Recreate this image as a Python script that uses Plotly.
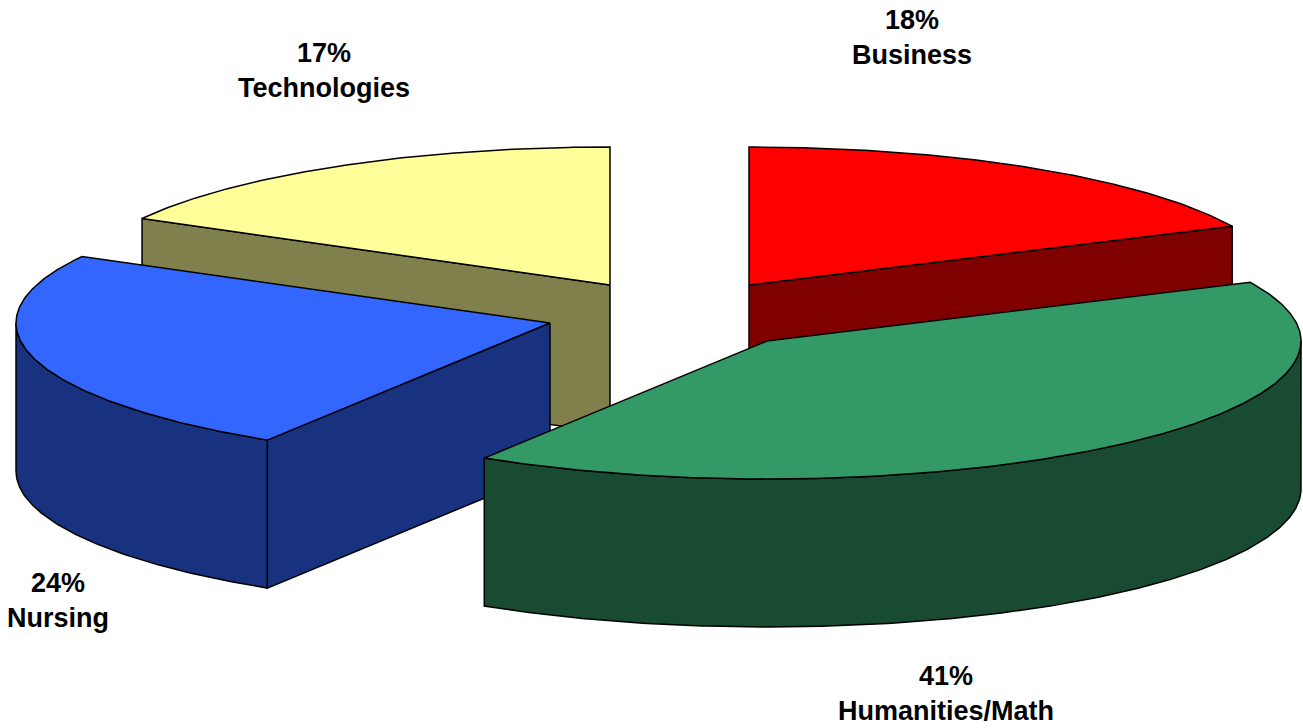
import numpy as np
import plotly.graph_objects as go

# ---- data (clockwise from 12 o'clock) ----
categories = ["Business", "Humanities/Math", "Nursing", "Technologies"]
shares = [18.0, 40.88, 24.12, 17.0]

# ---- styles / layout of the extruded exploded pie ----
top_colors = ["#FF0000", "#339966", "#3366FF", "#FFFF99"]
side_colors = ["#800000", "#194B32", "#183280", "#80804D"]
apexes = [(749, 285), (767, 341), (550, 323), (610, 285)]
label_xy = [(912, 37), (946, 693), (58, 600), (324, 70)]
draw_order = [3, 0, 2, 1]
RX, RY, DEPTH = 534, 138, 148

fig = go.Figure()


def add_poly(xs, ys, color):
    fig.add_trace(go.Scatter(
        x=np.r_[xs, xs[0]], y=np.r_[ys, ys[0]], mode="lines", fill="toself",
        fillcolor=color, line=dict(color="black", width=1.5),
        hoverinfo="skip", showlegend=False))


def rim(cx, cy, t0, t1, dy=0.0):
    t = np.radians(np.linspace(t0, t1, max(2, int(abs(t1 - t0) * 2) + 2)))
    return cx + RX * np.sin(t), cy - RY * np.cos(t) + dy


edges = np.r_[0, np.cumsum(shares)] * 360.0 / sum(shares)

for i in draw_order:
    cx, cy = apexes[i]
    t0, t1 = edges[i], edges[i + 1]
    # flat cut faces that look towards the viewer
    for t, visible in ((t1, np.sin(np.radians(t1)) > 1e-6),
                       (t0, np.sin(np.radians(t0)) < -1e-6)):
        if visible:
            rx, ry = rim(cx, cy, t, t)
            px, py = rx[0], ry[0]
            add_poly(np.array([cx, px, px, cx]),
                     np.array([cy, py, py + DEPTH, cy + DEPTH]), side_colors[i])
    # outer curved wall (front half of the ellipse only)
    a, b = max(t0, 90.0), min(t1, 270.0)
    if a < b:
        xa, ya = rim(cx, cy, a, b)
        xb, yb = rim(cx, cy, b, a, DEPTH)
        add_poly(np.r_[xa, xb], np.r_[ya, yb], side_colors[i])
    # top surface
    xa, ya = rim(cx, cy, t0, t1)
    add_poly(np.r_[cx, xa], np.r_[cy, ya], top_colors[i])

for name, val, (lx, ly) in zip(categories, shares, label_xy):
    fig.add_annotation(
        x=lx, y=ly, text=f"<b>{round(val)}%<br>{name}</b>", showarrow=False,
        xanchor="center", yanchor="middle", align="center",
        font=dict(family="Liberation Sans", size=27, color="black"))

fig.update_layout(
    width=1303, height=728, margin=dict(l=0, r=0, t=0, b=0),
    paper_bgcolor="white", plot_bgcolor="white", showlegend=False,
    xaxis=dict(range=[0, 1303], visible=False, fixedrange=True),
    yaxis=dict(range=[728, 0], visible=False, fixedrange=True),
)
fig.write_html("out.html", config={"displayModeBar": False},
               post_script="document.body.style.margin='0';document.body.style.overflow='hidden';")
